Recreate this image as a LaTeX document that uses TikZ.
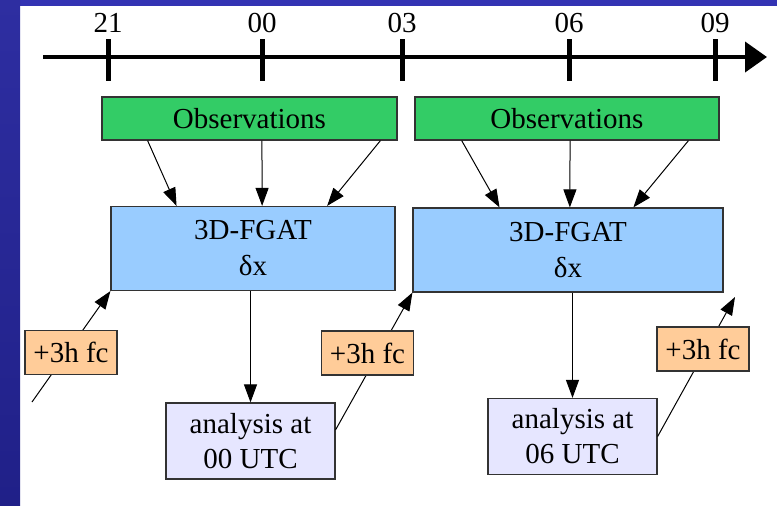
\documentclass[tikz,border=0pt]{standalone}
\usepackage{fontspec}
\setmainfont{Liberation Serif}
\usetikzlibrary{arrows.meta, calc}

\definecolor{obsgreen}{RGB}{51,204,102}
\definecolor{fgatblue}{RGB}{153,204,255}
\definecolor{analilac}{RGB}{230,230,255}
\definecolor{fcorange}{RGB}{255,204,153}
\definecolor{slideblue}{RGB}{51,51,179}
\definecolor{slidedark}{RGB}{32,32,136}

\begin{document}
\begin{tikzpicture}[
  x=0.5pt, y=-0.5pt,
  box/.style={rectangle, draw=black!80, line width=0.6pt, inner sep=0pt, align=center, font=\fontsize{14.5}{18}\selectfont},
  obsbox/.style={box, fill=obsgreen, minimum height=21.5pt},
  fgatbox/.style={box, fill=fgatblue, minimum height=42pt},
  anabox/.style={box, fill=analilac, minimum width=84.5pt, minimum height=38pt, font=\fontsize{14.5}{17.5}\selectfont},
  fcbox/.style={box, fill=fcorange, minimum width=46pt, minimum height=22pt},
  link/.style={-{Triangle[length=9pt, width=6.5pt]}, line width=0.5pt},
  axis/.style={-{Triangle[length=11pt, width=15pt]}, line width=2pt},
  hourtick/.style={line width=2.5pt},
  hourlabel/.style={font=\fontsize{14.5}{18}\selectfont, inner sep=0pt}
]
% slide frame
\fill[white] (0,0) rectangle (777,505);
\fill[slideblue] (0,0) rectangle (777,6);
\shade[top color=slideblue!90!black, bottom color=slidedark] (0,0) rectangle (20,505);
\useasboundingbox (0,0) rectangle (777,505);

% time axis
\draw[axis] (43,57) -- (767,57);
\foreach \x/\hr in {108/21, 262/00, 402/03, 569/06, 715/09} {
  \draw[hourtick] (\x,39) -- (\x,81);
  \node[hourlabel] (h\hr) at (\x,23) {\hr};
}

% observation windows
\node[obsbox, minimum width=147.5pt] (obs1) at (249.5,118.5) {Observations};
\node[obsbox, minimum width=152pt] (obs2) at (567,118.5) {Observations};

% minimisation
\node[fgatbox, minimum width=142pt] (fgat1) at (253,248.5) {3D-FGAT\\δx};
\node[fgatbox, minimum width=155pt] (fgat2) at (568,250) {3D-FGAT\\δx};

% analyses
\node[anabox] (ana1) at (250.5,441) {analysis at\\00 UTC};
\node[anabox] (ana2) at (572.5,436.5) {analysis at\\06 UTC};

% obs -> 3D-FGAT
\draw[link] ($(obs1.south west)!0.156!(obs1.south east)$) -- ($(fgat1.north west)!0.232!(fgat1.north east)$);
\draw[link] ($(obs1.south west)!0.542!(obs1.south east)$) -- ($(fgat1.north west)!0.532!(fgat1.north east)$);
\draw[link] ($(obs1.south west)!0.942!(obs1.south east)$) -- ($(fgat1.north west)!0.76!(fgat1.north east)$);
\draw[link] ($(obs2.south west)!0.155!(obs2.south east)$) -- ($(fgat2.north west)!0.28!(fgat2.north east)$);
\draw[link] ($(obs2.south west)!0.51!(obs2.south east)$) -- ($(fgat2.north west)!0.506!(fgat2.north east)$);
\draw[link] ($(obs2.south west)!0.898!(obs2.south east)$) -- ($(fgat2.north west)!0.71!(fgat2.north east)$);

% 3D-FGAT -> analysis
\draw[link] (ana1.north |- fgat1.south) -- (ana1.north);
\draw[link] (ana2.north |- fgat2.south) -- (ana2.north);

% background forecasts
\coordinate (bg0) at (32,402);
\coordinate (bg3) at (735,297);
\draw[link] (bg0) -- (fgat1.south west);
\draw[link] ($(ana1.north east)!0.355!(ana1.south east)$) -- (fgat2.south west);
\draw[link] (ana2.east) -- (bg3);
\node[fcbox] (fc1) at (71,352.5) {+3h fc};
\node[fcbox] (fc2) at (367.5,353) {+3h fc};
\node[fcbox] (fc3) at (703,349) {+3h fc};
\end{tikzpicture}
\end{document}
